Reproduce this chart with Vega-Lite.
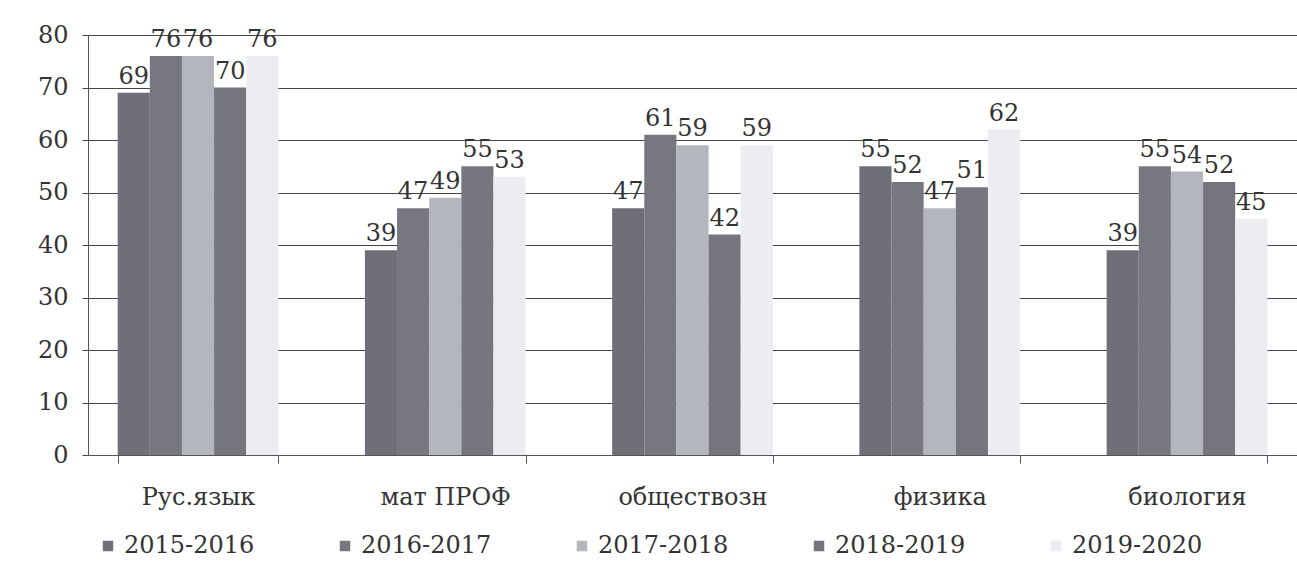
{
  "$schema": "https://vega.github.io/schema/vega-lite/v6.json",
  "autosize": "none",
  "width": 1209,
  "height": 420,
  "padding": {"left": 88, "top": 35, "right": 0, "bottom": 111},
  "background": "#ffffff",
  "config": {
    "font": "DejaVu Serif",
    "view": {"stroke": null},
    "axis": {"labelFont": "DejaVu Serif", "labelFontSize": 24, "labelColor": "#333333"}
  },
  "data": {
    "values": [
      {"subject": "Рус.язык", "year": "2015-2016", "value": 69},
      {"subject": "Рус.язык", "year": "2016-2017", "value": 76},
      {"subject": "Рус.язык", "year": "2017-2018", "value": 76},
      {"subject": "Рус.язык", "year": "2018-2019", "value": 70},
      {"subject": "Рус.язык", "year": "2019-2020", "value": 76},
      {"subject": "мат ПРОФ", "year": "2015-2016", "value": 39},
      {"subject": "мат ПРОФ", "year": "2016-2017", "value": 47},
      {"subject": "мат ПРОФ", "year": "2017-2018", "value": 49},
      {"subject": "мат ПРОФ", "year": "2018-2019", "value": 55},
      {"subject": "мат ПРОФ", "year": "2019-2020", "value": 53},
      {"subject": "обществозн", "year": "2015-2016", "value": 47},
      {"subject": "обществозн", "year": "2016-2017", "value": 61},
      {"subject": "обществозн", "year": "2017-2018", "value": 59},
      {"subject": "обществозн", "year": "2018-2019", "value": 42},
      {"subject": "обществозн", "year": "2019-2020", "value": 59},
      {"subject": "физика", "year": "2015-2016", "value": 55},
      {"subject": "физика", "year": "2016-2017", "value": 52},
      {"subject": "физика", "year": "2017-2018", "value": 47},
      {"subject": "физика", "year": "2018-2019", "value": 51},
      {"subject": "физика", "year": "2019-2020", "value": 62},
      {"subject": "биология", "year": "2015-2016", "value": 39},
      {"subject": "биология", "year": "2016-2017", "value": 55},
      {"subject": "биология", "year": "2017-2018", "value": 54},
      {"subject": "биология", "year": "2018-2019", "value": 52},
      {"subject": "биология", "year": "2019-2020", "value": 45}
    ]
  },
  "encoding": {
    "x": {
      "field": "subject", "type": "nominal", "sort": null, "title": null,
      "scale": {"paddingInner": 0.35, "paddingOuter": 0.12},
      "axis": {"labelAngle": 0, "labelPadding": 22, "tickSize": 8, "tickBand": "extent", "domainColor": "#555555", "tickColor": "#555555"}
    },
    "xOffset": {"field": "year", "type": "nominal", "sort": null},
    "y": {
      "field": "value", "type": "quantitative", "title": null,
      "scale": {"domain": [0, 80]},
      "axis": {"values": [0,10,20,30,40,50,60,70,80], "gridColor": "#444444", "gridWidth": 1.2, "domainColor": "#555555", "tickColor": "#444444", "tickSize": 6, "labelPadding": 14}
    }
  },
  "layer": [
    {
      "mark": {"type": "bar"},
      "encoding": {
        "color": {
          "field": "year", "type": "nominal", "sort": null,
          "scale": {"domain": ["2015-2016","2016-2017","2017-2018","2018-2019","2019-2020"], "range": ["#6f6f78","#777780","#b3b6bd","#75757d","#ededf1"]},
          "legend": {
            "title": null, "orient": "none", "direction": "horizontal", "legendX": 8, "legendY": 499,
            "symbolType": "square", "symbolSize": 110, "labelFont": "DejaVu Serif", "labelFontSize": 24,
            "labelColor": "#333333", "columnPadding": 78, "symbolOffset": 0, "labelOffset": 4
          }
        }
      }
    },
    {
      "mark": {"type": "text", "dy": -16, "font": "DejaVu Serif", "fontSize": 24, "color": "#333333"},
      "encoding": {"text": {"field": "value", "type": "quantitative"}}
    }
  ]
}
